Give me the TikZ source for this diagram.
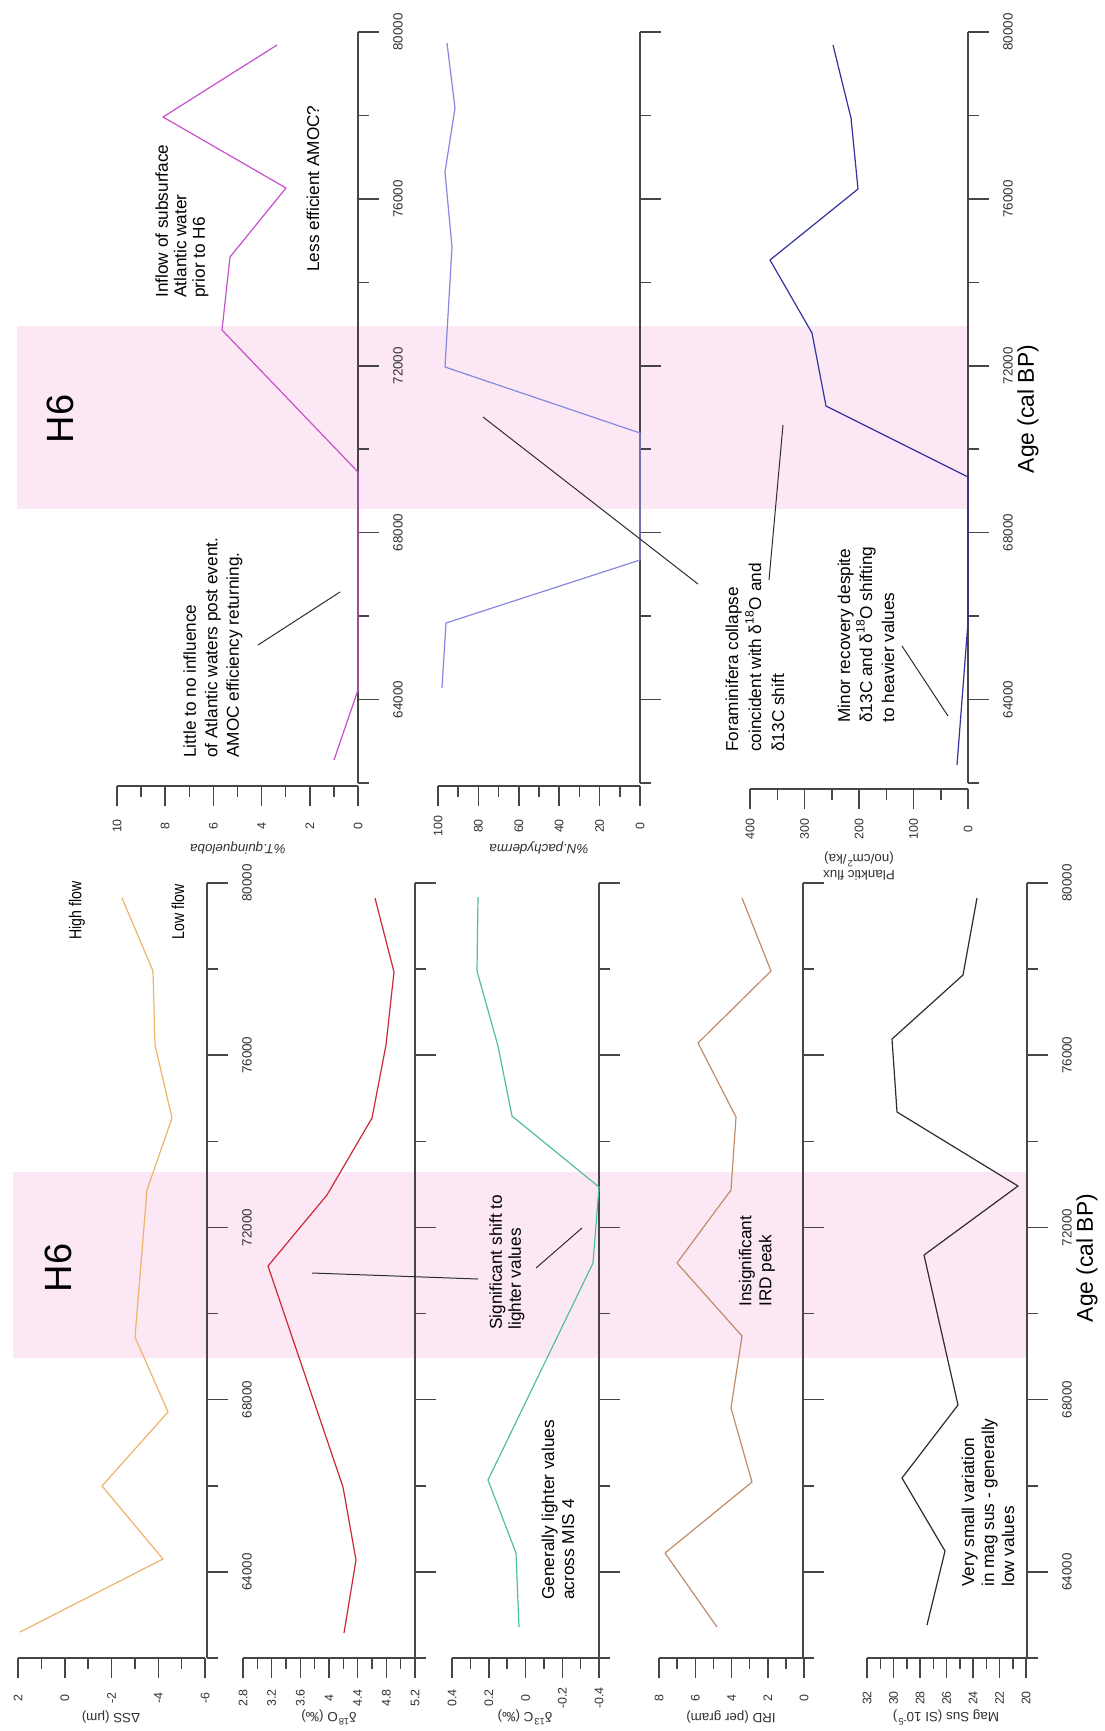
\documentclass[tikz,border=0pt]{standalone}
\usepackage{fontspec}
\setmainfont{Liberation Sans}
\usepackage{graphicx}
\definecolor{colband}{RGB}{252,232,244}
\definecolor{colaxis}{RGB}{70,70,70}
\definecolor{collab}{RGB}{50,50,50}
\definecolor{colSS}{RGB}{238,180,105}
\definecolor{colO}{RGB}{205,40,55}
\definecolor{colC}{RGB}{80,190,165}
\definecolor{colIRD}{RGB}{195,140,105}
\definecolor{colMS}{RGB}{45,45,45}
\definecolor{colTQ}{RGB}{200,80,205}
\definecolor{colNP}{RGB}{135,135,225}
\definecolor{colPF}{RGB}{50,50,160}
\newcommand{\ageaxis}[3]{%
  \draw[axisline] (#1,#2) -- (#1,#3);
  \foreach \i in {0,...,9}{%
    \pgfmathsetmacro{\yy}{#2+\i*(#3-#2)/9}%
    \pgfmathsetmacro{\tl}{mod(\i,2)==0 ? 21 : 11}%
    \draw[axisline] (#1,\yy) -- ({#1+\tl},\yy);
  }%
}
\newcommand{\valaxis}[6]{%
  \draw[axisline] (#1,#3) -- (#2,#3);
  \foreach \i in {0,...,#4}{%
    \pgfmathsetmacro{\xx}{#1+\i*(#2-#1)/#4}%
    \pgfmathsetmacro{\tl}{mod(\i,2)==0 ? 20 : 11}%
    \draw[axisline] (\xx,#3) -- (\xx,{#3+\tl});
  }%
  \foreach \lab [count=\k from 0] in {#5}{%
    \pgfmathsetmacro{\xx}{#1+2*\k*(#2-#1)/#4}%
    \node[vallab] (#6\k) at (\xx,{#3+40}) {\lab};
  }%
}
\newcommand{\agelabels}[4]{%
  \foreach \av [count=\k from 0] in {80000,76000,72000,68000,64000}{%
    \pgfmathsetmacro{\yy}{#2+2*\k*(#3-#2)/9}%
    \node[agelab] (#4\k) at ({#1+40},\yy) {\av};
  }%
}
\begin{document}
\begin{tikzpicture}[x=0.5pt,y=-0.5pt,
  axisline/.style={draw=colaxis, line width=0.75pt},
  datacurve/.style={line width=0.6pt, line join=round},
  leaderline/.style={draw=colMS, line width=0.5pt},
  bandfill/.style={fill=colband},
  agelab/.style={rotate=90, font=\fontsize{6.7}{8}\selectfont, text=collab, inner sep=0pt},
  vallab/.style={rotate=90, font=\fontsize{6.2}{7.5}\selectfont, text=collab, inner sep=0pt},
  axtitle/.style={rotate=180, font=\fontsize{6.7}{8}\selectfont, text=collab, inner sep=0pt, align=center},
  notetext/.style={rotate=90, anchor=west, align=left, inner sep=0pt, text=black},
  bigtitle/.style={rotate=90, font=\fontsize{11.4}{13}\selectfont, inner sep=0pt},
  eventlab/.style={rotate=90, font=\fontsize{19}{22}\selectfont, inner sep=0pt}]
\path[use as bounding box, fill=white] (0,0) rectangle (1104,1731);
% H6 bands
\fill[bandfill] (17,326) rectangle (968,509);
\fill[bandfill] (13,1172) rectangle (1027,1358);

% ---------- upper figure axes
\ageaxis{358}{32}{783}
\ageaxis{640}{32}{783}
\ageaxis{968}{32}{783}
\valaxis{117}{358}{786}{10}{10,8,6,4,2,0}{tq}
\valaxis{438}{640}{786}{10}{100,80,60,40,20,0}{np}
\valaxis{750}{968}{789}{8}{400,300,200,100,0}{pf}
\agelabels{358}{32}{783}{ua}
\agelabels{968}{32}{783}{ub}
\node[axtitle] (tqt) at (238,848) {\textit{\%T.quinqueloba}};
\node[axtitle] (npt) at (539,848) {\textit{\%N.pachyderma}};
\node[axtitle, font=\fontsize{6.7}{8}\selectfont] (pft) at (859,866) {Planktic flux\\(no/cm\textsuperscript{2}/ka)};

% ---------- lower figure axes
\ageaxis{207}{883}{1658}
\ageaxis{415}{883}{1658}
\ageaxis{599}{883}{1658}
\ageaxis{803}{883}{1658}
\ageaxis{1027}{883}{1658}
\valaxis{18}{205}{1658}{8}{2,0,-2,-4,-6}{ss}
\valaxis{243}{415}{1658}{12}{2.8,3.2,3.6,4,4.4,4.8,5.2}{do}
\valaxis{452}{599}{1658}{8}{0.4,0.2,0,-0.2,-0.4}{dc}
\valaxis{659}{804}{1658}{8}{8,6,4,2,0}{ird}
\valaxis{867}{1026}{1658}{12}{32,30,28,26,24,22,20}{ms}
\agelabels{207}{883}{1658}{la}
\agelabels{1027}{883}{1658}{lb}
\node[axtitle] (sst) at (111,1717) {ΔSS (μm)};
\node[axtitle] (dot) at (329,1717) {δ\textsuperscript{18}O (‰)};
\node[axtitle] (dct) at (525,1717) {δ\textsuperscript{13}C (‰)};
\node[axtitle] (irdt) at (731,1717) {IRD (per gram)};
\node[axtitle] (mst) at (946,1717) {Mag Sus (SI 10\textsuperscript{-5})};

% ---------- upper curves
\draw[datacurve, colTQ] (277,45) -- (163,117) -- (286,188) -- (230,257) -- (222,330) -- (358,472) -- (358,690) -- (334,760);
\draw[datacurve, colNP] (447,43) -- (455,108) -- (445,172) -- (452,247) -- (445,367) -- (640,433) -- (640,560) -- (446,623) -- (442,688);
\draw[datacurve, colPF] (833,45) -- (851,118) -- (858,189) -- (770,260) -- (812,333) -- (826,406) -- (968,477) -- (968,622) -- (957,765);

% ---------- lower curves
\draw[datacurve, colSS] (122,898) -- (153,971) -- (155,1045) -- (172,1118) -- (147,1190) -- (135,1337) -- (168,1412) -- (102,1486) -- (163,1559) -- (20,1632);
\draw[datacurve, colO] (375,898) -- (394,972) -- (386,1045) -- (372,1118) -- (327,1195) -- (268,1266) -- (343,1487) -- (356,1560) -- (344,1633);
\draw[datacurve, colC] (478,897) -- (477,971) -- (498,1046) -- (512,1116) -- (599,1187) -- (593,1263) -- (488,1480) -- (516,1553) -- (519,1627);
\draw[datacurve, colIRD] (742,898) -- (771,971) -- (698,1043) -- (736,1117) -- (731,1190) -- (677,1263) -- (742,1336) -- (731,1408) -- (752,1482) -- (665,1553) -- (717,1627);
\draw[datacurve, colMS] (977,898) -- (963,975) -- (892,1039) -- (897,1112) -- (1018,1186) -- (924,1255) -- (958,1405) -- (902,1478) -- (945,1551) -- (927,1625);

% ---------- event labels and age titles
\node[eventlab] (h6u) at (60,419) {H6};
\node[eventlab] (h6l) at (58,1268) {H6};
\node[bigtitle] (ageu) at (1028,409) {Age (cal BP)};
\node[bigtitle] (agel) at (1087,1258) {Age (cal BP)};

% ---------- annotations (upper)
\node[notetext, font=\fontsize{8.6}{9.25}\selectfont] (inflow) at (182,298) {Inflow of subsurface\\Atlantic water\\prior to H6};
\node[notetext, font=\fontsize{8.6}{10}\selectfont] (amoc) at (313,272) {Less efficient AMOC?};
\node[notetext, font=\fontsize{8.6}{10.75}\selectfont] (little) at (213,758) {Little to no influence\\of Atlantic waters post event.\\AMOC efficiency returning.};
\node[notetext, font=\fontsize{8.6}{11.5}\selectfont] (foram) at (755,752) {Foraminifera collapse\\coincident with δ\textsuperscript{18}O and\\δ13C shift};
\node[notetext, font=\fontsize{8.6}{11}\selectfont] (minor) at (866,723) {Minor recovery despite\\δ13C and δ\textsuperscript{18}O shifting\\to heavier values};

% ---------- annotations (lower)
\node[notetext, font=\fontsize{8.6}{10}\selectfont] (high) at (77,940) {\scalebox{0.82}[1]{High flow}};
\node[notetext, font=\fontsize{8.6}{10}\selectfont] (low) at (178,940) {\scalebox{0.82}[1]{Low flow}};
\node[notetext, font=\fontsize{8.6}{9.5}\selectfont] (signif) at (507,1330) {Significant shift to\\lighter values};
\node[notetext, font=\fontsize{8.6}{10}\selectfont] (general) at (558,1600) {Generally lighter values\\across MIS 4};
\node[notetext, font=\fontsize{8.6}{10}\selectfont] (insig) at (757,1307) {Insignificant\\IRD peak};
\node[notetext, font=\fontsize{8.6}{10}\selectfont] (verysmall) at (988,1587) {Very small variation\\in mag sus - generally\\low values};

% ---------- leader lines
\coordinate (l1a) at (258,645); \coordinate (l1b) at (340,592);
\coordinate (l2a) at (769,580); \coordinate (l2b) at (783,425);
\coordinate (l3a) at (698,584); \coordinate (l3b) at (483,417);
\coordinate (l4a) at (902,646); \coordinate (l4b) at (948,716);
\coordinate (l5a) at (478,1279); \coordinate (l5b) at (312,1273);
\coordinate (l6a) at (536,1268); \coordinate (l6b) at (582,1228);
\draw[leaderline] (l1a) -- (l1b);
\draw[leaderline] (l2a) -- (l2b);
\draw[leaderline] (l3a) -- (l3b);
\draw[leaderline] (l4a) -- (l4b);
\draw[leaderline] (l5a) -- (l5b);
\draw[leaderline] (l6a) -- (l6b);
\end{tikzpicture}
\end{document}
